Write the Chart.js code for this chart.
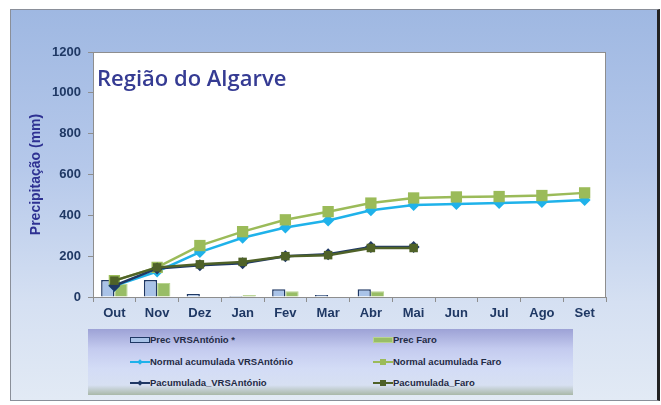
<!DOCTYPE html>
<html><head><meta charset="utf-8">
<script src="https://cdn.jsdelivr.net/npm/chart.js@4"></script>
<style>
html,body{margin:0;padding:0;width:661px;height:405px;overflow:hidden;background:#fff;}
#frame{position:absolute;left:10px;top:9px;width:646px;height:390px;border:1px solid #8a8f99;border-right:3px solid #222;
background:linear-gradient(to bottom,#9fb8e2 0%,#b5c8ea 40%,#d5e0f2 75%,#e2eaf5 100%);}
#wrap{position:absolute;left:0;top:0;width:661px;height:405px;}
#title{position:absolute;left:97px;top:62px;font-family:"Open Sans","Noto Sans",sans-serif;font-weight:600;font-size:22px;color:#353b93;}
#legend{position:absolute;left:88px;top:329px;width:485px;height:66px;
background:linear-gradient(to bottom,#9da2d6 0%,#c4cbef 30%,#d3dcf6 60%,#d7e0f2 85%,#a9b8a8 100%);
font-family:Arial,"Liberation Sans",sans-serif;font-weight:bold;font-size:9.5px;color:#1f2a44;}
.li{position:absolute;height:14px;line-height:14px;white-space:nowrap;}
.sym{display:inline-block;width:20px;height:14px;vertical-align:top;position:relative;}
</style></head>
<body>
<div id="frame"></div>
<div id="wrap"><canvas id="c" width="661" height="405"></canvas></div>
<div id="title">Região do Algarve</div>
<div id="legend"></div>
<script>
const months = ["Out","Nov","Dez","Jan","Fev","Mar","Abr","Mai","Jun","Jul","Ago","Set"];
const yTicks = [0,200,400,600,800,1000,1200];
const precVRSA = [83,83,15,5,38,10,38,3,null,null,null,null];
const precFaro = [65,68,3,10,28,2,28,0,null,null,null,null];
const normalVRSA = [55,125,220,290,340,375,425,451,456,460,465,475];
const normalFaro = [80,145,252,320,378,418,460,485,490,492,497,510];
const pacumVRSA = [55,140,155,165,200,210,245,245,null,null,null,null];
const pacumFaro = [80,145,160,172,200,205,240,240,null,null,null,null];

const labelsLegend = ["Prec VRSAntónio *","Prec Faro","Normal acumulada  VRSAntónio","Normal acumulada  Faro","Pacumulada_VRSAntónio","Pacumulada_Faro"];

const bgPlugin = {
  id:'bg',
  beforeDraw(chart){
    const {ctx, chartArea:a} = chart;
    ctx.save();
    ctx.fillStyle='#ffffff';
    ctx.fillRect(a.left,a.top,a.right-a.left,a.bottom-a.top);
    ctx.restore();
  },
  afterDraw(chart){
    const {ctx, chartArea:a} = chart;
    ctx.save();
    ctx.strokeStyle='#8e8e8e';ctx.lineWidth=1;
    ctx.strokeRect(a.left+0.5,a.top+0.5,a.right-a.left-1,a.bottom-a.top);
    ctx.restore();
  }
};

new Chart(document.getElementById('c'),{
  type:'bar',
  data:{labels:months,datasets:[
    {type:'bar',label:labelsLegend[0],data:precVRSA,backgroundColor:'#a9c3e8',borderColor:'#1f3864',borderWidth:1.5,order:10,barPercentage:1,categoryPercentage:0.62},
    {type:'bar',label:labelsLegend[1],data:precFaro,backgroundColor:'#98bd66',borderColor:'#b8d490',borderWidth:1,order:10,barPercentage:1,categoryPercentage:0.62},
    {type:'line',label:labelsLegend[2],data:normalVRSA,borderColor:'#1fb2ea',backgroundColor:'#1fb2ea',borderWidth:2.5,pointStyle:'rectRot',pointRadius:6,pointBorderWidth:0,order:4},
    {type:'line',label:labelsLegend[3],data:normalFaro,borderColor:'#9bbb59',backgroundColor:'#9bbb59',borderWidth:2.5,pointStyle:'rect',pointRadius:8,pointBorderWidth:0,order:3},
    {type:'line',label:labelsLegend[4],data:pacumVRSA,borderColor:'#1f3864',backgroundColor:'#1f3864',borderWidth:2.5,pointStyle:'rectRot',pointRadius:6,pointBorderWidth:0,order:2},
    {type:'line',label:labelsLegend[5],data:pacumFaro,borderColor:'#4f6228',backgroundColor:'#4f6228',borderWidth:2.5,pointStyle:'rect',pointRadius:6,pointBorderWidth:0,order:1}
  ]},
  options:{
    responsive:false,animation:false,
    layout:{padding:{left:10,top:52,right:55,bottom:83}},
    plugins:{legend:{display:false},tooltip:{enabled:false}},
    scales:{
      x:{offset:true,
        grid:{offset:true,drawOnChartArea:false,drawTicks:true,tickLength:5,color:'#8e8e8e'},
        border:{display:true,color:'#8e8e8e'},
        ticks:{color:'#1f3864',padding:4,font:{family:'Arial, "Liberation Sans", sans-serif',weight:'bold',size:13}},
        afterFit(s){s.height=25;}
      },
      y:{min:0,max:1200,
        afterBuildTicks(s){s.ticks=yTicks.map(v=>({value:v}));},
        grid:{drawOnChartArea:false,drawTicks:true,tickLength:5,color:'#8e8e8e'},
        border:{display:true,color:'#8e8e8e'},
        ticks:{color:'#1f3864',padding:7,callback:v=>String(v),font:{family:'"Liberation Sans Narrow", Arial, sans-serif',weight:'bold',size:13}},
        title:{display:true,text:'Precipitação (mm)',color:'#2e3192',padding:{top:18,bottom:0},font:{family:'Arial, "Liberation Sans", sans-serif',weight:'bold',size:14}},
        afterFit(s){s.width=83;}
      }
    }
  },
  plugins:[bgPlugin]
});

// legend
const leg = document.getElementById('legend');
const items = [
  {x:42,y:4,t:labelsLegend[0],k:'bar',c:'#a9c3e8',b:'#1f3864'},
  {x:285,y:4,t:labelsLegend[1],k:'bar',c:'#98bd66',b:'#b8d490'},
  {x:42,y:26,t:labelsLegend[2],k:'line',c:'#1fb2ea',m:'d'},
  {x:285,y:26,t:labelsLegend[3],k:'line',c:'#9bbb59',m:'s'},
  {x:42,y:47,t:labelsLegend[4],k:'line',c:'#1f3864',m:'d'},
  {x:285,y:47,t:labelsLegend[5],k:'line',c:'#4f6228',m:'s'}
];
items.forEach(it=>{
  const d=document.createElement('div');d.className='li';d.style.left=it.x+'px';d.style.top=it.y+'px';
  let sym='';
  if(it.k==='bar'){
    sym=`<span class="sym"><span style="position:absolute;left:0;top:4px;width:18px;height:4px;background:${it.c};border:1px solid ${it.b};"></span></span>`;
  }else{
    const mk = it.m==='d'
      ? `<span style="position:absolute;left:8px;top:5px;width:4px;height:4px;background:${it.c};transform:rotate(45deg);"></span>`
      : `<span style="position:absolute;left:7px;top:4px;width:6px;height:6px;background:${it.c};"></span>`;
    sym=`<span class="sym"><span style="position:absolute;left:0;top:6px;width:20px;height:2px;background:${it.c};"></span>${mk}</span>`;
  }
  d.innerHTML=sym+'<span>'+it.t+'</span>';
  leg.appendChild(d);
});
</script>
</body></html>
